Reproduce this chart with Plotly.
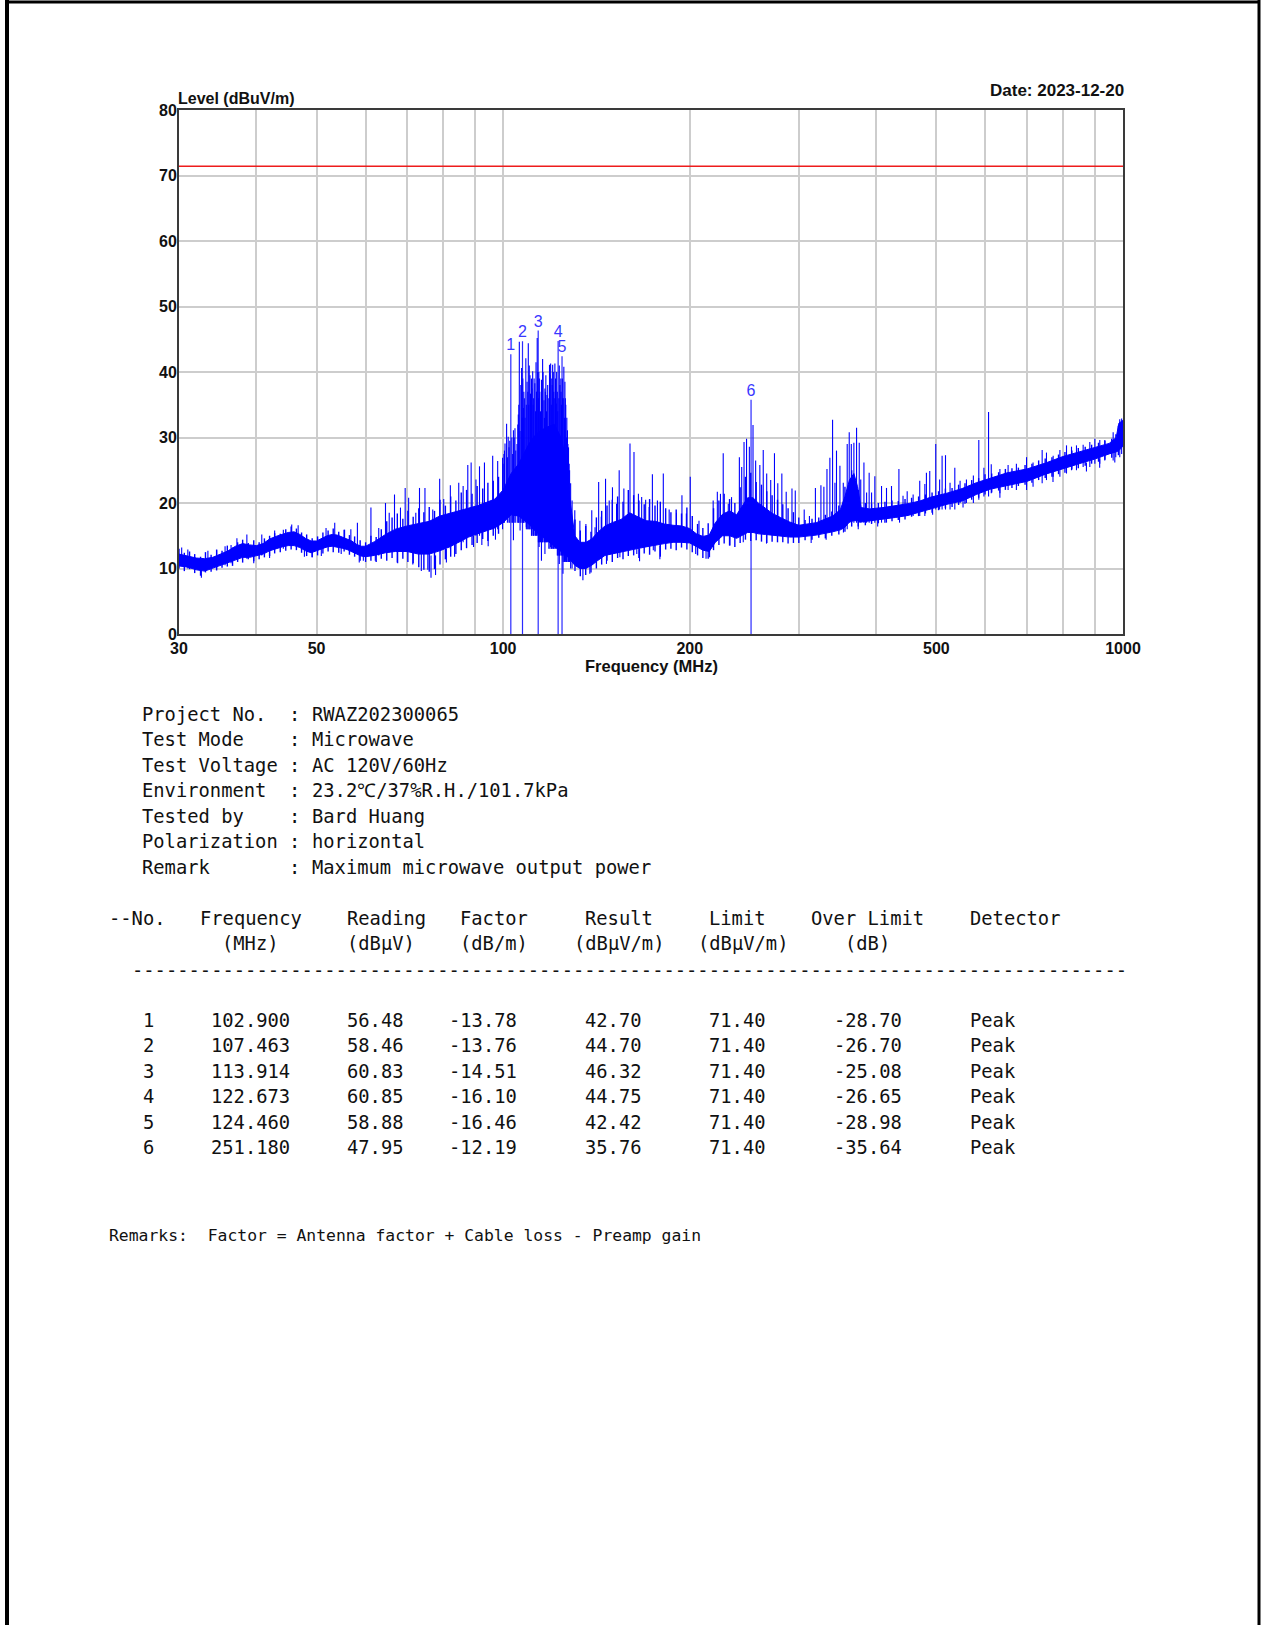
import plotly.graph_objects as go

# ---------------- sweep trace (dBuV/m) ----------------
# dense core of the peak-hold sweep: lower and upper edge at each frequency (MHz)
band_freq = [30, 31, 32, 33, 34, 35, 36, 37, 38, 39, 40, 41, 42, 43, 44, 45, 46, 47, 48, 49,
             50, 51, 52, 53, 54, 55, 56, 57, 58, 59, 60, 62, 64.6, 67, 70, 73, 76, 79, 82, 85,
             88, 91, 94, 97, 100, 103, 106, 110, 113, 117, 121, 124, 126, 128, 130.5, 133, 136,
             139, 142, 146, 150, 155, 160, 164, 170, 176, 182, 188, 194, 200, 205, 210, 215, 220,
             226, 232, 238, 243, 248, 253, 258, 265, 272, 280, 290, 300, 320, 340, 350, 356, 362,
             368, 373, 378, 390, 410, 430, 450, 470, 490, 520, 550, 580, 610, 650, 700, 750, 800,
             850, 900, 950, 975, 985, 1000]
band_low = [10.4, 10.2, 9.8, 9.6, 10.0, 10.4, 10.8, 11.3, 11.7, 11.7, 11.9, 12.2, 12.7, 13.0, 13.3,
            13.5, 13.5, 13.2, 12.7, 12.4, 12.6, 13.0, 13.3, 13.4, 13.3, 13.1, 12.9, 12.6, 12.2, 11.9,
            11.8, 12.0, 12.4, 12.6, 12.6, 12.2, 12.2, 12.7, 13.3, 14.0, 14.8, 15.3, 15.8, 16.2, 17.0,
            18.2, 18.0, 16.8, 15.6, 14.4, 13.4, 12.6, 12.2, 11.4, 10.5, 10.0, 10.0, 10.5, 11.2,
            12.0, 12.3, 12.6, 12.8, 13.0, 13.3, 13.6, 13.8, 14.0, 14.0, 13.9, 13.3, 12.8, 12.6,
            14.0, 15.0, 15.0, 14.6, 15.1, 15.5, 15.5, 15.3, 15.2, 15.1, 15.0, 14.8, 14.8, 15.1,
            15.6, 15.9, 16.3, 17.1, 17.3, 17.3, 17.1, 17.3, 17.5, 17.8, 18.1, 18.5, 19.1, 19.8,
            20.3, 21.3, 22.1, 22.6, 23.3, 24.4, 25.2, 26.0, 26.7, 27.5, 27.8, 28.0, 28.7]
band_high = [12.2, 11.9, 11.6, 11.5, 11.7, 12.2, 12.7, 13.4, 13.8, 13.6, 13.5, 13.8, 14.5, 14.9,
             15.2, 15.5, 15.6, 15.2, 14.6, 14.2, 14.2, 14.6, 15.0, 15.2, 15.1, 14.8, 14.5, 14.2,
             13.7, 13.4, 13.4, 14.1, 15.2, 16.0, 16.5, 16.9, 17.2, 18.0, 18.4, 18.8, 19.2, 19.6,
             20.1, 20.6, 22.0, 24.5, 26.0, 29.0, 30.5, 31.5, 32.0, 30.0, 27.0, 21.0, 15.0, 14.0,
             14.0, 14.5, 15.5, 16.5, 17.0, 17.5, 18.5, 18.0, 17.3, 17.2, 16.8, 16.6, 16.5, 16.1,
             15.3, 14.9, 15.1, 17.0, 18.3, 18.8, 18.2, 19.5, 20.8, 20.8, 20.0, 19.2, 18.4, 17.8,
             17.1, 16.6, 17.0, 18.0, 19.0, 21.0, 23.5, 24.5, 22.5, 19.3, 19.1, 19.3, 19.6, 19.9,
             20.3, 20.9, 21.5, 22.2, 23.1, 23.8, 24.6, 25.2, 26.1, 27.1, 27.8, 28.4, 29.1, 30.0,
             32.2, 32.6]

# fine structure of the sweep: frequency, bottom and top of the trace in that column
hair_freq = [30.0, 30.6, 31.2, 31.8, 32.5, 33.1, 33.8, 34.5, 35.2, 35.9, 36.6, 37.3, 38.0, 38.8,
             39.6, 40.4, 41.2, 42.0, 42.8, 43.7, 44.6, 45.5, 46.4, 47.3, 48.2, 49.2, 50.2, 51.2,
             52.2, 53.2, 54.3, 55.4, 56.5, 57.6, 58.8, 60.0, 61.2, 62.4, 63.6, 64.9, 66.2, 67.5,
             68.9, 70.2, 71.6, 73.1, 74.5, 76.0, 77.5, 79.1, 80.7, 82.3, 83.9, 85.6, 87.3, 89.1,
             90.8, 92.7, 94.5, 96.4, 98.3, 130.6, 133.2, 135.9, 138.6, 141.4, 144.2, 147.1, 150.0,
             153.0, 156.1, 159.2, 162.4, 165.6, 168.9, 172.3, 175.8, 179.3, 182.9, 186.5, 190.2,
             194.0, 197.9, 201.9, 205.9, 210.0, 214.2, 218.5, 222.9, 227.3, 231.9, 236.5, 241.2,
             246.0, 250.9, 256.0, 261.1, 266.3, 271.6, 277.1, 282.6, 288.2, 294.0, 299.9, 307,
             315, 323, 331, 339, 348, 356, 365, 374, 384, 393, 403, 413, 424, 434, 445, 456, 468,
             480, 492, 504, 517, 530, 543, 556, 570, 585, 599, 614, 630, 646, 662, 678, 695, 713,
             731, 749, 768, 787, 806, 827, 847, 869, 890, 913, 935, 959, 983]
hair_low = [10.0, 9.6, 9.9, 9.3, 8.9, 9.4, 9.5, 9.7, 10.1, 10.3, 10.4, 11.0, 10.9, 11.4, 11.1,
            11.4, 11.7, 11.9, 12.3, 12.5, 12.7, 12.9, 12.8, 12.4, 11.9, 11.7, 12.0, 12.3, 12.6,
            12.5, 12.4, 12.6, 12.1, 11.8, 11.2, 11.0, 11.2, 11.0, 11.5, 11.2, 11.6, 10.9, 11.5,
            11.0, 10.8, 10.2, 9.8, 9.5, 9.9, 10.6, 11.4, 11.8, 12.2, 12.8, 13.1, 13.6, 13.9, 14.5,
            14.2, 15.0, 15.3, 9.6, 8.8, 9.0, 9.4, 10.0, 10.6, 11.2, 11.0, 11.6, 11.4, 11.9, 12.0,
            11.6, 12.3, 12.1, 12.6, 11.8, 12.9, 13.0, 12.8, 13.2, 12.9, 12.5, 12.0, 11.6, 11.5,
            12.8, 13.6, 13.8, 13.5, 13.3, 13.9, 14.4, 14.2, 14.3, 14.1, 13.9, 14.1, 14.0, 14.0,
            13.8, 13.9, 13.9, 14.3, 14.4, 14.7, 14.6, 15.0, 15.2, 15.6, 16.4, 16.4, 16.6, 16.8,
            16.9, 17.0, 17.2, 17.4, 17.5, 17.9, 18.0, 18.4, 18.5, 18.9, 19.2, 19.4, 19.7, 19.9,
            20.5, 20.8, 21.3, 21.6, 21.9, 22.0, 22.3, 22.6, 22.8, 23.1, 23.5, 23.8, 24.0, 24.4,
            24.6, 25.1, 25.3, 25.7, 26.0, 26.3, 26.6, 26.9, 27.3]
hair_high = [13.0, 12.4, 12.6, 12.2, 11.8, 12.5, 12.1, 12.9, 12.7, 13.5, 13.2, 14.0, 14.4, 13.9,
             14.3, 14.0, 14.6, 15.0, 15.4, 15.3, 16.0, 16.4, 16.1, 15.5, 15.2, 14.6, 14.9, 15.5,
             15.8, 16.1, 15.6, 15.9, 15.1, 14.9, 14.3, 14.0, 15.0, 14.8, 16.0, 17.2, 17.8, 18.4,
             17.6, 18.8, 17.9, 19.2, 18.6, 19.4, 18.8, 20.5, 19.6, 21.0, 20.4, 21.6, 22.0, 21.4,
             22.6, 22.2, 23.1, 23.4, 24.0, 17.5, 15.8, 16.5, 15.6, 17.8, 18.8, 19.6, 20.5, 21.0,
             20.2, 22.0, 21.2, 20.4, 19.8, 20.6, 19.6, 20.2, 19.2, 18.6, 19.0, 18.4, 19.3, 18.0,
             16.8, 16.2, 16.9, 19.2, 20.4, 21.4, 20.6, 20.0, 22.4, 24.0, 24.6, 23.2, 22.8, 21.8,
             21.2, 20.5, 19.8, 19.2, 18.6, 17.8, 17.4, 17.6, 17.8, 18.2, 18.7, 19.6, 22.5, 25.0,
             22.0, 20.0, 19.9, 20.0, 20.2, 20.4, 20.3, 20.6, 20.8, 21.0, 21.3, 21.6, 21.8, 22.2,
             22.3, 22.8, 23.0, 23.5, 23.8, 24.4, 24.5, 24.7, 25.2, 25.3, 25.4, 25.8, 26.0, 26.5,
             26.8, 27.0, 27.4, 27.8, 28.0, 28.4, 28.6, 28.9, 29.2, 29.5, 29.8, 31.8]

# dense cluster of emissions between 100 and 130 MHz: frequency, foot, tip
burst_freq = [100.0, 100.5, 101.6, 102.5, 103.6, 104.2, 104.8, 105.6, 106.0, 106.5, 107.3, 107.6,
              108.0, 108.5, 109.0, 109.6, 110.0, 110.5, 110.9, 111.3, 111.8, 112.2, 112.8, 113.2,
              113.7, 114.0, 114.4, 114.9, 115.5, 116.0, 116.6, 117.0, 117.5, 118.0, 118.5, 119.0,
              119.6, 120.0, 120.5, 120.9, 121.5, 122.3, 122.5, 123.0, 123.5, 124.2, 124.6, 125.0,
              125.6, 126.0, 126.5, 127.2, 127.8, 128.5]
burst_foot = [17, 17, 17, 17, 17, 17, 17, 17, 17, 17, 17, 17, 17, 17, 16, 16, 16, 16, 16, 15, 15,
              15, 15, 15, 15, 14, 14, 14, 14, 14, 14, 14, 14, 14, 13, 13, 13, 13, 13, 13, 13, 12,
              12, 12, 12, 12, 12, 11, 11, 11, 11, 11, 11, 10]
burst_tip = [26.0, 28.0, 27.0, 29.5, 27.5, 30.0, 28.0, 32.0, 35.0, 31.0, 33.0, 39.0, 37.0, 33.0,
             35.0, 37.0, 35.0, 39.5, 34.0, 37.5, 35.0, 39.0, 34.0, 37.0, 40.0, 36.0, 39.0, 34.0,
             36.0, 40.0, 33.0, 37.0, 34.0, 38.0, 36.0, 39.5, 35.0, 38.0, 40.0, 36.0, 39.0, 37.0,
             34.0, 36.0, 38.0, 35.0, 39.0, 36.0, 33.0, 36.0, 30.0, 29.0, 26.0, 23.0]

# isolated peaks rising out of the body: frequency, foot, tip
spike_freq = [30.3, 31.0, 33.4, 34.5, 35.6, 36.4, 37.2, 38.6, 40.8, 42.8, 44.2, 45.6, 46.7, 51.8,
              53.5, 55.5, 56.8, 58.2, 61.2, 63.0, 64.6, 65.5, 66.8, 68.3, 69.5, 70.4, 72.3, 73.3,
              74.8, 77.0, 79.0, 80.2, 82.2, 84.8, 86.2, 87.7, 88.8, 90.4, 91.6, 93.3, 96.2, 98.0,
              99.8, 100.3, 100.7, 101.3, 101.9, 102.2, 103.3, 103.9, 104.5, 105.3, 105.8, 106.2,
              106.8, 107.1, 107.8, 108.2, 108.8, 109.3, 109.8, 110.2, 110.7, 111.1, 111.6, 112.0,
              112.5, 113.0, 113.5, 114.2, 114.6, 115.3, 115.8, 116.4, 116.8, 117.2, 117.7, 118.3,
              118.8, 119.3, 119.8, 120.2, 120.7, 121.2, 121.8, 122.0, 123.2, 123.9, 124.0, 124.8,
              125.3, 125.8, 126.2, 126.7, 127.0, 127.5, 128.0, 129.2, 130.5, 133.0, 136.0, 139.0,
              140.7, 142.6, 144.0, 146.3, 148.3, 150.1, 152.4, 153.9, 156.6, 160.2, 162.6, 165.3,
              167.3, 169.8, 172.0, 174.1, 177.4, 181.3, 185.3, 190.4, 194.3, 197.5, 200.4, 207.0,
              218.2, 221.6, 224.2, 226.5, 230.8, 233.6, 240.5, 242.6, 244.7, 247.0, 249.6, 253.0,
              255.5, 259.5, 262.8, 266.2, 270.2, 274.0, 277.4, 281.6, 286.2, 292.4, 296.0, 306,
              312, 319, 325.6, 329.2, 333, 336.6, 340, 343, 345, 349.4, 353.8, 359, 361.7, 364.5,
              368, 371.7, 375.4, 377.5, 382, 385.8, 389.5, 393, 397.8, 407.8, 415.4, 423.2, 435,
              441.7, 448.6, 458.6, 470, 479, 481.8, 487.8, 498.8, 506, 510.7, 517.2, 526, 535.4,
              546, 559, 573.6, 585.3, 596.5, 606.9, 613, 633, 652.6, 673, 698.8, 716, 740.6, 752.6,
              771.5, 791, 810.7, 825.9, 841.3, 862.4, 884, 900.7, 917.4, 934.6, 964.1, 973.5, 988,
              995]
spike_foot = [10.5, 10.0, 10.0, 10.0, 10.5, 10.8, 11.5, 11.5, 12.0, 13.0, 13.0, 13.5, 13.5, 13.2,
              13.5, 13.0, 13.0, 13.0, 12.0, 12.0, 12.5, 12.5, 13.0, 13.0, 13.0, 13.0, 13.0, 13.0,
              13.0, 13.0, 13.0, 13.0, 13.0, 14.0, 14.0, 15.0, 15.0, 15.0, 15.0, 16.0, 16.0, 16.0,
              16.0, 17, 18, 18, 18, 17, 17, 18, 18, 18, 17, 18, 17, 18, 17, 18, 18, 16, 17, 16, 17,
              15, 16, 15, 16, 15, 16, 14, 15, 15, 14, 15, 14, 15, 14, 15, 14, 14, 13, 14, 13, 14,
              14, 13, 12, 13, 12, 12, 12, 12, 12, 11, 12, 11, 11, 10, 12, 12, 12, 12, 12, 13, 13,
              14, 14, 14, 14, 14, 14, 15, 15, 15, 15, 15, 15, 15, 15, 15, 15, 15, 15, 15, 15, 14,
              15, 15, 15, 15, 16, 16, 16, 16, 16, 16, 16, 16, 16, 16, 16, 16, 16, 16, 16, 16, 16,
              16, 15.5, 15.5, 15.5, 15.5, 15.5, 15.5, 15.5, 16, 16, 16, 16, 16, 16, 16, 17, 17, 17,
              17, 17, 17, 17, 17, 17, 17, 17, 17, 17, 18, 18, 18, 18, 18, 18, 18, 19, 19, 19, 19,
              19, 19, 19, 19, 20, 20, 20, 20.5, 21, 21, 21.5, 21.5, 22, 22, 22.5, 22.5, 23, 23.5,
              24, 24, 24.5, 25, 25, 25.5, 25.5, 26, 26, 26.5, 26.5, 27, 27, 27.5, 28, 28]
spike_tip = [13.2, 12.9, 12.7, 12.8, 13.4, 13.6, 14.6, 15.2, 15.2, 15.8, 15.9, 16.7, 16.6, 16.2,
             17.0, 15.9, 16.0, 17.0, 19.3, 16.2, 20.0, 18.5, 21.3, 19.3, 22.3, 20.8, 18.5, 22.3,
             22.3, 19.0, 23.7, 20.6, 22.7, 23.1, 22.6, 25.8, 26.2, 23.6, 25.6, 26.2, 27.2, 26.4,
             26.9, 27.5, 29.1, 32.1, 30.1, 28.5, 30.0, 31.1, 31.4, 29.0, 33.5, 44.6, 38.0, 40.6,
             34.5, 36.0, 42.1, 38.5, 44.4, 41.0, 36.7, 39.0, 40.1, 36.0, 38.3, 41.5, 45.2, 40.0,
             37.0, 38.8, 42.0, 35.7, 37.5, 39.5, 36.5, 30.1, 41.1, 41.3, 39.0, 41.1, 37.0, 41.3,
             35.2, 40.0, 41.0, 39.0, 37.0, 36.0, 40.8, 38.5, 35.0, 33.0, 31.1, 28.5, 25.0, 20.4,
             18.9, 17.3, 16.8, 18.9, 16.3, 23.2, 17.9, 23.7, 20.4, 22.4, 19.9, 25.0, 22.2, 29.1,
             27.8, 21.4, 20.9, 20.5, 19.4, 24.4, 20.4, 24.5, 19.0, 18.5, 21.2, 18.4, 24.0, 17.3,
             20.4, 21.7, 21.4, 27.6, 19.9, 20.9, 27.0, 25.5, 29.3, 29.8, 28.6, 31.9, 26.5, 25.8,
             28.1, 24.5, 23.5, 27.6, 23.0, 24.5, 21.7, 22.2, 21.9, 19.0, 18.0, 22.3, 22.7, 22.5,
             25.2, 26.9, 32.7, 23.1, 28.0, 25.7, 23.1, 29.0, 30.8, 29.0, 29.2, 31.5, 29.2, 23.6,
             26.2, 21.6, 24.6, 21.6, 24.1, 22.6, 22.3, 22.6, 25.2, 21.1, 21.8, 21.3, 23.4, 22.9,
             24.6, 24.9, 29.0, 23.6, 27.2, 27.3, 23.1, 25.4, 23.4, 23.6, 24.2, 29.6, 25.4, 33.9,
             25.9, 25.2, 25.8, 26.0, 27.0, 26.2, 28.1, 27.7, 27.2, 28.1, 28.8, 28.6, 28.8, 28.9,
             29.3, 29.8, 29.6, 29.6, 30.8, 30.5, 32.8, 32.9]

# short drops below the body: frequency, floor, top
dip_freq = [32.6, 39.6, 42.0, 47.8, 49.2, 50.9, 54.8, 58.6, 59.5, 62.2, 67.6, 71.5, 73.8, 75.6,
            76.5, 77.8, 81.0, 83.5, 89.6, 92.4, 94.6, 97.2, 103.9, 106.5, 109.0, 111.9, 114.3,
            115.3, 116.8, 119.3, 121.2, 123.2, 124.9, 126.0, 134.5, 138.0, 146.8, 154.3, 164.3,
            166.0, 174.7, 179.0, 204.5, 212.5, 215.3, 232.2, 244.0, 266.0, 314, 332, 354, 374,
            402, 436, 493, 552, 633, 699, 771, 873, 917, 970]
dip_floor = [8.6, 10.8, 11.6, 11.8, 11.7, 11.9, 12.2, 10.9, 11.2, 11.2, 10.8, 10.6, 9.6, 9.8, 8.6,
             9.0, 10.9, 11.8, 13.3, 13.6, 13.4, 14.4, 14.3, 15.8, 16.3, 15.3, 13.3, 11.2, 12.2,
             13.3, 13.3, 10.7, 9.2, 11.2, 8.2, 9.2, 10.7, 11.7, 12.2, 11.1, 12.8, 11.4, 12.2, 11.5,
             11.7, 13.5, 14.0, 13.8, 13.9, 14.4, 15.5, 16.0, 16.4, 17.0, 18.2, 19.3, 20.8, 22.0,
             23.2, 24.8, 25.4, 26.2]
dip_top = [11.0, 12.5, 13.0, 13.5, 13.0, 13.0, 13.5, 12.5, 12.5, 12.5, 13.0, 13.0, 12.5, 12.5,
           12.0, 12.0, 13.0, 14.0, 15.0, 15.5, 16.0, 16.5, 19.0, 19.0, 19.0, 18.0, 17.0, 16.0,
           16.0, 16.0, 16.0, 15.0, 14.0, 14.0, 11.0, 11.0, 13.0, 13.0, 14.0, 13.0, 14.0, 13.5,
           13.5, 13.0, 13.0, 15.0, 15.5, 15.5, 15.5, 16.0, 16.5, 17.5, 17.5, 18.0, 19.2, 20.5,
           22.5, 23.5, 24.8, 26.2, 26.8, 27.8]

# ---------------- final measurement table ----------------
mark_no = [1, 2, 3, 4, 5, 6]
mark_freq = [102.900, 107.463, 113.914, 122.673, 124.460, 251.180]
mark_reading = [56.48, 58.46, 60.83, 60.85, 58.88, 47.95]
mark_factor = [-13.78, -13.76, -14.51, -16.10, -16.46, -12.19]
mark_result = [42.70, 44.70, 46.32, 44.75, 42.42, 35.76]
mark_limit = [71.40, 71.40, 71.40, 71.40, 71.40, 71.40]
mark_over = [-28.70, -26.70, -25.08, -26.65, -28.98, -35.64]
mark_detector = ["Peak", "Peak", "Peak", "Peak", "Peak", "Peak"]

limit_level = 71.40
x_ticks = [30, 50, 100, 200, 500, 1000]
x_grid = [40, 60, 70, 80, 90, 300, 400, 600, 700, 800, 900]
y_ticks = [0, 10, 20, 30, 40, 50, 60, 70, 80]

info_labels = ["Project No.", "Test Mode", "Test Voltage", "Environment", "Tested by",
               "Polarization", "Remark"]
info_values = ["RWAZ202300065", "Microwave", "AC 120V/60Hz", "23.2℃/37%R.H./101.7kPa",
               "Bard Huang", "horizontal", "Maximum microwave output power"]

# ---------------- page geometry ----------------
W, H = 1261, 1625
ML, MR, MT, MB = 179, 138, 110, 991
PW, PH = W - ML - MR, H - MT - MB


def px(x):
    return (x - ML) / PW


def py(y):
    return (H - MB - y) / PH


BLUE = "#0000ff"
MONO = "DejaVu Sans Mono"
SANS = "Liberation Sans, Arial, sans-serif"


def segments(freqs, lows, highs):
    xs, ys = [], []
    for f, a, b in zip(freqs, lows, highs):
        xs += [f, f, None]
        ys += [a, b, None]
    return xs, ys


fig = go.Figure()

# marker lines from the axis up to the measured result
mx, my = segments(mark_freq, [0] * len(mark_freq), mark_result)
fig.add_trace(go.Scatter(x=mx, y=my, mode="lines", line=dict(color="#2a2aff", width=1.2),
                         hoverinfo="skip"))

# dense core of the sweep
fig.add_trace(go.Scatter(x=band_freq + band_freq[::-1], y=band_high + band_low[::-1],
                         mode="lines", fill="toself", fillcolor=BLUE,
                         line=dict(color=BLUE, width=1), hoverinfo="skip"))

# fine structure of the sweep
hx, hy = segments(hair_freq, hair_low, hair_high)
fig.add_trace(go.Scatter(x=hx, y=hy, mode="lines", line=dict(color=BLUE, width=1.4),
                         hoverinfo="skip"))

# peaks and drops of the sweep
sx, sy = segments(spike_freq, spike_foot, spike_tip)
bx, by = segments(burst_freq, burst_foot, burst_tip)
dx, dy = segments(dip_freq, dip_floor, dip_top)
fig.add_trace(go.Scatter(x=sx + bx + dx, y=sy + by + dy, mode="lines",
                         line=dict(color=BLUE, width=1.1), hoverinfo="skip"))

# limit line
fig.add_trace(go.Scatter(x=[30, 1000], y=[limit_level, limit_level], mode="lines",
                         line=dict(color="#ee1c1c", width=1.5), hoverinfo="skip"))

# marker numbers
fig.add_trace(go.Scatter(x=mark_freq, y=mark_result, mode="text",
                         text=[str(n) for n in mark_no], textposition="top center",
                         textfont=dict(family=SANS, size=16, color="#3838ff"),
                         hoverinfo="skip"))

fig.update_xaxes(type="log", range=[1.4771213, 3.0], tickvals=x_ticks,
                 ticktext=[str(v) for v in x_ticks], showgrid=True, gridcolor="#cdcdcd",
                 gridwidth=1.5, minor=dict(tickvals=x_grid, showgrid=True, gridcolor="#cdcdcd",
                                           gridwidth=1.5, ticks=""),
                 showline=True, linecolor="#3a3a3a", linewidth=2, mirror=True, ticks="",
                 tickfont=dict(family=SANS, size=16, color="#111111", weight="bold"),
                 ticklabelstandoff=-1, zeroline=False)
fig.update_yaxes(range=[0, 80], tickvals=y_ticks, showgrid=True, gridcolor="#cdcdcd",
                 gridwidth=1.5, showline=True, linecolor="#3a3a3a", linewidth=2, mirror=True,
                 ticks="", tickfont=dict(family=SANS, size=16, color="#111111", weight="bold"),
                 ticklabelstandoff=-3, zeroline=False)

ann = []
bold = dict(family=SANS, size=16, color="#111111", weight="bold")
ann.append(dict(x=px(176), y=py(99), text="Level (dBuV/m)", xanchor="left", yanchor="middle",
                font=bold))
ann.append(dict(x=px(1126), y=py(90), text="Date: 2023-12-20", xanchor="right",
                yanchor="middle", font=dict(bold, size=17)))
ann.append(dict(x=px(651), y=py(665.5), text="Frequency (MHz)", xanchor="center",
                yanchor="middle", font=dict(bold, size=16.5)))

mono = dict(family=MONO, size=18.8, color="#111111")
for i, (lab, val) in enumerate(zip(info_labels, info_values)):
    yy = py(714 + i * 25.5)
    ann.append(dict(x=px(140), y=yy, text=lab, xanchor="left", yanchor="middle", font=mono))
    ann.append(dict(x=px(287), y=yy, text=":", xanchor="left", yanchor="middle", font=mono))
    ann.append(dict(x=px(310), y=yy, text=val, xanchor="left", yanchor="middle", font=mono))

CW = 11.33
X0 = 107


def cell(col, y, text):
    ann.append(dict(x=px(X0 + col * CW), y=py(y), text=text, xanchor="left",
                    yanchor="middle", font=mono))


for col, t in [(0, "--No."), (8, "Frequency"), (21, "Reading"), (31, "Factor"), (42, "Result"),
               (53, "Limit"), (62, "Over\u00a0Limit"), (76, "Detector")]:
    cell(col, 918, t)
for col, t in [(10, "(MHz)"), (21, "(dBµV)"), (31, "(dB/m)"), (41, "(dBµV/m)"),
               (52, "(dBµV/m)"), (65, "(dB)")]:
    cell(col, 943.5, t)
cell(2, 970, "-" * 88)

for i in range(len(mark_no)):
    yy = 1020 + i * 25.5
    cell(3, yy, str(mark_no[i]))
    cell(9, yy, f"{mark_freq[i]:.3f}")
    cell(21, yy, f"{mark_reading[i]:.2f}")
    cell(30, yy, f"{mark_factor[i]:.2f}")
    cell(42, yy, f"{mark_result[i]:.2f}")
    cell(53, yy, f"{mark_limit[i]:.2f}")
    cell(64, yy, f"{mark_over[i]:.2f}")
    cell(76, yy, mark_detector[i])

ann.append(dict(x=px(106.5), y=py(1235),
                text="Remarks:\u00a0\u00a0Factor = Antenna factor + Cable loss - Preamp gain",
                xanchor="left", yanchor="middle", font=dict(family=MONO, size=16.4,
                                                            color="#111111")))
for a in ann:
    a.update(xref="paper", yref="paper", showarrow=False)

# page frame
shapes = [
    dict(type="line", xref="paper", yref="paper", x0=px(7), x1=px(7), y0=py(0), y1=py(H),
         line=dict(color="#000000", width=4)),
    dict(type="line", xref="paper", yref="paper", x0=px(5), x1=px(1260), y0=py(2), y1=py(2),
         line=dict(color="#000000", width=3)),
    dict(type="line", xref="paper", yref="paper", x0=px(1259), x1=px(1259), y0=py(0),
         y1=py(H), line=dict(color="#000000", width=3)),
]

fig.update_layout(width=W, height=H, margin=dict(l=ML, r=MR, t=MT, b=MB, pad=0),
                  paper_bgcolor="white", plot_bgcolor="white", showlegend=False,
                  annotations=ann, shapes=shapes)

fig.write_html("out.html")
